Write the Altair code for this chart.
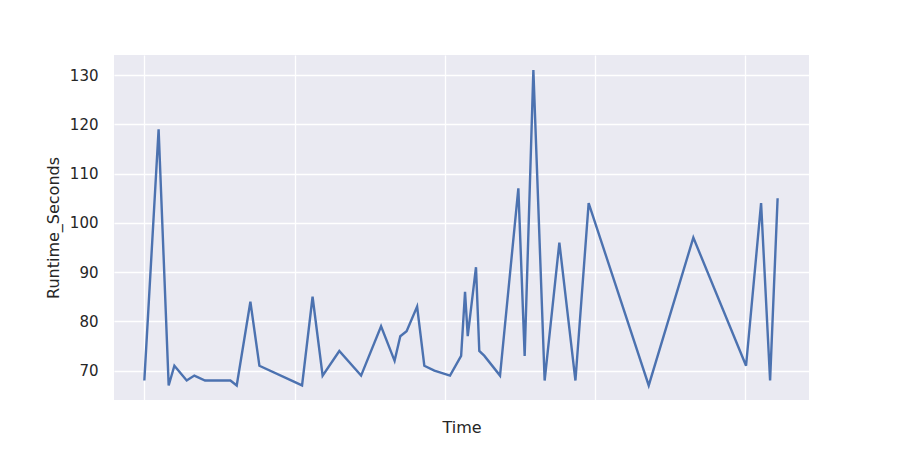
import altair as alt
import pandas as pd

time_vals = [0, 0.95, 1.62, 2.0, 2.82, 3.33, 4.04, 5.73, 6.15, 7.06, 7.66, 10.5, 11.2, 11.87,
             12.98, 14.43, 15.76, 16.66, 17.04, 17.46, 18.16, 18.64, 19.31, 20.35, 21.09, 21.35,
             21.53, 22.08, 22.3, 22.64, 23.68, 24.9, 25.32, 25.9, 26.65, 27.63, 28.7, 29.58,
             33.58, 36.55, 40.06, 41.06, 41.66, 42.16]
runtime = [68, 119, 67, 71, 68, 69, 68, 68, 67, 84, 71, 67, 85, 69,
           74, 69, 79, 72, 77, 78, 83, 71, 70, 69, 73, 86,
           77, 91, 74, 73, 69, 107, 73, 131, 68, 96, 68, 104,
           67, 97, 71, 104, 68, 105]
x_ticks = [0, 10, 20, 30, 40]
y_ticks = [70, 80, 90, 100, 110, 120, 130]

df = pd.DataFrame({"Time": time_vals, "Runtime_Seconds": runtime})

chart = alt.Chart(df).mark_line(color="#4C72B0", strokeWidth=2.4).encode(
    x=alt.X("Time:Q", scale=alt.Scale(domain=[-2.02, 44.25], nice=False, zero=False),
            axis=alt.Axis(values=x_ticks, labels=False, ticks=False, domain=False,
                          gridColor="white", gridWidth=1.3, title="Time",
                          titleFontSize=16, titleFontWeight="normal", titleColor="#262626",
                          titleFont="DejaVu Sans", titlePadding=19)),
    y=alt.Y("Runtime_Seconds:Q", scale=alt.Scale(domain=[64.05, 134.06], nice=False, zero=False),
            axis=alt.Axis(values=y_ticks, ticks=False, domain=False, gridColor="white",
                          gridWidth=1.3, labelFontSize=15, labelColor="#262626",
                          labelFont="DejaVu Sans", labelPadding=16, title="Runtime_Seconds",
                          titleFontSize=16, titleFontWeight="normal", titleColor="#262626",
                          titleFont="DejaVu Sans", titlePadding=8)),
).properties(
    width=695, height=345,
    autosize=alt.AutoSizeParams(type="none"),
    padding={"left": 106, "top": 47, "right": 83, "bottom": 42},
).configure(
    background="white",
    view=alt.ViewConfig(fill="#EAEAF2", stroke=None),
)

chart.save("out.html", embed_options={"renderer": "svg", "actions": False})
